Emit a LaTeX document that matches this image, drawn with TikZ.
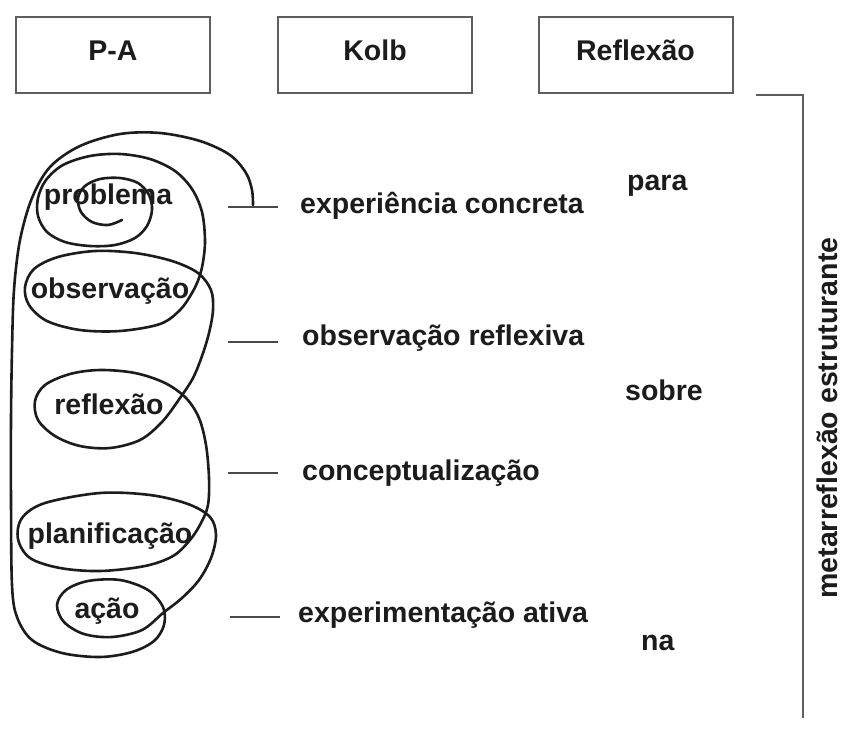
\documentclass[tikz,border=0pt]{standalone}
\usepackage{fontspec}
\setmainfont{Liberation Sans}
\definecolor{ink}{HTML}{1C1C1C}
\definecolor{boxgray}{HTML}{5E5E5E}
\definecolor{tickgray}{HTML}{4A4A4A}
\begin{document}
\begin{tikzpicture}[x=1pt,y=-1pt,
  lbl/.style={font=\bfseries\fontsize{28.5}{34}\selectfont, text=ink, inner sep=0pt},
  hdr/.style={lbl, draw=boxgray, line width=2pt, minimum width=194pt, minimum height=76pt,
              text height=21pt, text depth=11pt},
  coil/.style={draw=ink, line width=2.6pt, line cap=round, line join=round},
  tick/.style={draw=tickgray, line width=2pt},
  brace/.style={draw=boxgray, line width=2.4pt},
]
\useasboundingbox (0,0) rectangle (850,728);
\fill[white] (0,0) rectangle (850,728);

% column headers
\node[hdr] (hPA)   at (113,55)   {P-A};
\node[hdr] (hKolb) at (375,55)   {Kolb};
\node[hdr] (hRef)  at (635.5,55) {Reflexão};

% P-A stages
\node[lbl, anchor=base] (sProb) at (108,204) {problema};
\node[lbl, anchor=base] (sObs)  at (110,298) {observação};
\node[lbl, anchor=base] (sRef)  at (109,414) {reflexão};
\node[lbl, anchor=base] (sPlan) at (110,543) {planificação};
\node[lbl, anchor=base] (sAcao) at (107,618) {ação};

% Kolb cycle
\node[lbl, anchor=base west] (k1) at (300,213) {experiência concreta};
\node[lbl, anchor=base west] (k2) at (302,345) {observação reflexiva};
\node[lbl, anchor=base west] (k3) at (302,480) {conceptualização};
\node[lbl, anchor=base west] (k4) at (298,622) {experimentação ativa};

\coordinate (t1a) at (228,207); \coordinate (t1b) at (278,207);
\coordinate (t2a) at (228,342); \coordinate (t2b) at (278,342);
\coordinate (t3a) at (228,473); \coordinate (t3b) at (278,473);
\coordinate (t4a) at (230,617); \coordinate (t4b) at (280,617);
\draw[tick] (t1a) -- (t1b);
\draw[tick] (t2a) -- (t2b);
\draw[tick] (t3a) -- (t3b);
\draw[tick] (t4a) -- (t4b);

% reflection prepositions
\node[lbl, anchor=base west] (rPara)  at (627,190) {para};
\node[lbl, anchor=base west] (rSobre) at (625,400) {sobre};
\node[lbl, anchor=base west] (rNa)    at (641,650) {na};

% bracket and vertical label
\coordinate (bA) at (756,95);
\coordinate (bB) at (803,95);
\coordinate (bC) at (803,718);
\draw[brace] (bA) -- (bB) -- (bC);
\node[lbl, rotate=90] (meta) at (827,418) {metarreflexão estruturante};

% the coil running through the P-A stages
\draw[coil] plot[smooth, tension=0.55] coordinates {
  (122,220) (108,225) (92,222) (81,212) (78,198) (85,186) (100,179) (120,178)
  (138,183) (149,195) (152,210) (147,226) (135,238) (115,245) (90,246) (65,242)
  (47,232) (38,216) (38,198) (46,180) (63,165) (90,156) (120,154) (150,159)
  (175,171) (192,189) (202,212) (205,240) (203,262) (199,278) (192,293) (180,310)
  (160,324) (120,331) (80,330) (47,321) (29,305) (25,287) (34,269) (58,257)
  (95,251) (135,253) (172,261) (198,273) (211,290) (213,310) (209,333) (202,356)
  (193,378) (180,398) (162,422) (140,440) (110,448) (80,446) (55,436) (38,420)
  (35,401) (45,385) (70,374) (100,370) (135,373) (165,383) (186,398) (199,418)
  (206,445) (209,478) (208,505) (201,523) (190,540) (173,556) (145,566) (100,571)
  (60,568) (30,558) (18,539) (22,518) (45,503) (100,493) (150,495) (188,504)
  (210,517) (216,535) (211,558) (199,580) (182,598) (163,613) (142,630) (112,637)
  (84,634) (64,622) (57,605) (66,590) (88,581) (120,580) (148,590) (163,607)
  (164,625) (154,641) (132,652) (100,657) (62,653) (32,640) (17,617) (12,585)
  (11,500) (11,420) (12,350) (14,290) (20,240) (32,198) (50,167) (80,146)
  (120,134) (160,133) (200,141) (230,155) (246,173) (252,190) (253,205)
};
\end{tikzpicture}
\end{document}
